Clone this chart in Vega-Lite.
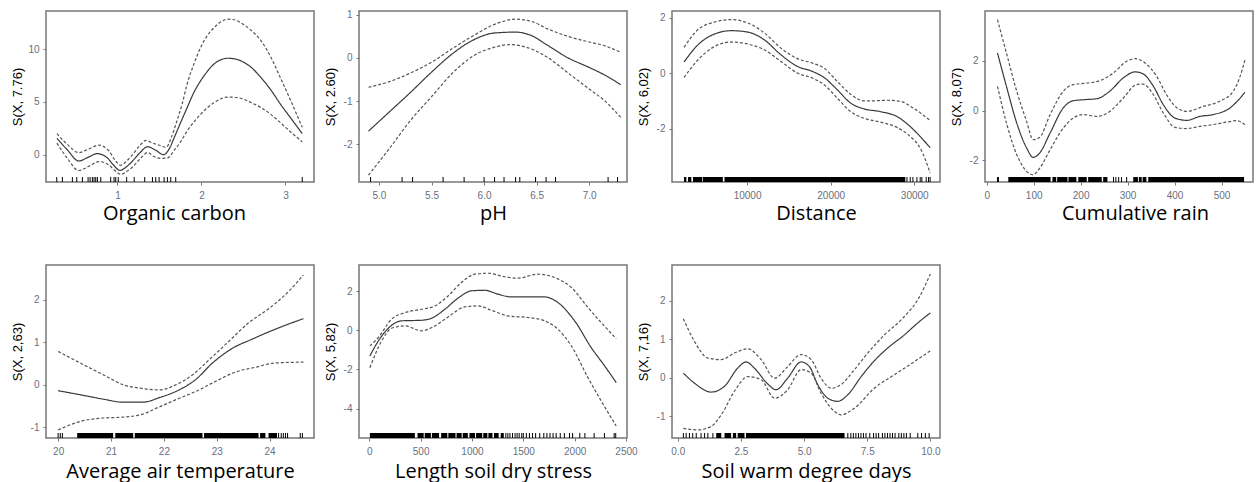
{
"$schema": "https://vega.github.io/schema/vega-lite/v6.json",
"padding": {"left": 10, "top": 9, "right": 0, "bottom": 0},
"autosize": "pad",
"bounds": "flush",
"columns": 4,
"spacing": {"row": 83, "column": 45},
"datasets": {
"curves": [
{"p":"oc","s":"fit","x":0.28,"y":1.55},{"p":"oc","s":"fit","x":0.40,"y":0.5},{"p":"oc","s":"fit","x":0.54,"y":-0.6},{"p":"oc","s":"fit","x":0.65,"y":-0.25},{"p":"oc","s":"fit","x":0.76,"y":0.1},{"p":"oc","s":"fit","x":0.88,"y":-0.3},{"p":"oc","s":"fit","x":0.95,"y":-0.95},{"p":"oc","s":"fit","x":1.03,"y":-1.49},{"p":"oc","s":"fit","x":1.10,"y":-1.2},{"p":"oc","s":"fit","x":1.18,"y":-0.6},{"p":"oc","s":"fit","x":1.27,"y":0.2},{"p":"oc","s":"fit","x":1.36,"y":0.76},{"p":"oc","s":"fit","x":1.45,"y":0.45},{"p":"oc","s":"fit","x":1.55,"y":0.0},{"p":"oc","s":"fit","x":1.62,"y":0.6},{"p":"oc","s":"fit","x":1.67,"y":1.5},{"p":"oc","s":"fit","x":1.75,"y":3.0},{"p":"oc","s":"fit","x":1.83,"y":4.46},{"p":"oc","s":"fit","x":1.91,"y":5.9},{"p":"oc","s":"fit","x":1.99,"y":7.0},{"p":"oc","s":"fit","x":2.07,"y":7.9},{"p":"oc","s":"fit","x":2.15,"y":8.6},{"p":"oc","s":"fit","x":2.23,"y":9.0},{"p":"oc","s":"fit","x":2.31,"y":9.15},{"p":"oc","s":"fit","x":2.39,"y":9.1},{"p":"oc","s":"fit","x":2.47,"y":8.9},{"p":"oc","s":"fit","x":2.59,"y":8.3},{"p":"oc","s":"fit","x":2.71,"y":7.3},{"p":"oc","s":"fit","x":2.83,"y":6.1},{"p":"oc","s":"fit","x":2.94,"y":4.8},{"p":"oc","s":"fit","x":3.07,"y":3.4},{"p":"oc","s":"fit","x":3.20,"y":2.0},
{"p":"oc","s":"hi","x":0.28,"y":2.0},{"p":"oc","s":"hi","x":0.40,"y":1.0},{"p":"oc","s":"hi","x":0.54,"y":0.2},{"p":"oc","s":"hi","x":0.66,"y":0.55},{"p":"oc","s":"hi","x":0.78,"y":0.9},{"p":"oc","s":"hi","x":0.90,"y":0.35},{"p":"oc","s":"hi","x":0.97,"y":-0.5},{"p":"oc","s":"hi","x":1.04,"y":-1.0},{"p":"oc","s":"hi","x":1.11,"y":-0.6},{"p":"oc","s":"hi","x":1.18,"y":0.0},{"p":"oc","s":"hi","x":1.26,"y":0.8},{"p":"oc","s":"hi","x":1.34,"y":1.35},{"p":"oc","s":"hi","x":1.42,"y":1.1},{"p":"oc","s":"hi","x":1.50,"y":0.9},{"p":"oc","s":"hi","x":1.58,"y":0.7},{"p":"oc","s":"hi","x":1.64,"y":1.6},{"p":"oc","s":"hi","x":1.70,"y":3.0},{"p":"oc","s":"hi","x":1.77,"y":4.8},{"p":"oc","s":"hi","x":1.83,"y":6.7},{"p":"oc","s":"hi","x":1.91,"y":8.6},{"p":"oc","s":"hi","x":1.99,"y":10.15},{"p":"oc","s":"hi","x":2.07,"y":11.3},{"p":"oc","s":"hi","x":2.15,"y":12.05},{"p":"oc","s":"hi","x":2.23,"y":12.6},{"p":"oc","s":"hi","x":2.31,"y":12.85},{"p":"oc","s":"hi","x":2.39,"y":12.8},{"p":"oc","s":"hi","x":2.47,"y":12.5},{"p":"oc","s":"hi","x":2.59,"y":11.8},{"p":"oc","s":"hi","x":2.71,"y":10.8},{"p":"oc","s":"hi","x":2.83,"y":9.2},{"p":"oc","s":"hi","x":2.94,"y":7.3},{"p":"oc","s":"hi","x":3.07,"y":5.0},{"p":"oc","s":"hi","x":3.20,"y":2.6},
{"p":"oc","s":"lo","x":0.28,"y":1.1},{"p":"oc","s":"lo","x":0.40,"y":-0.3},{"p":"oc","s":"lo","x":0.54,"y":-1.5},{"p":"oc","s":"lo","x":0.66,"y":-1.1},{"p":"oc","s":"lo","x":0.78,"y":-0.65},{"p":"oc","s":"lo","x":0.90,"y":-1.0},{"p":"oc","s":"lo","x":0.97,"y":-1.5},{"p":"oc","s":"lo","x":1.04,"y":-1.87},{"p":"oc","s":"lo","x":1.11,"y":-1.6},{"p":"oc","s":"lo","x":1.18,"y":-1.17},{"p":"oc","s":"lo","x":1.27,"y":-0.4},{"p":"oc","s":"lo","x":1.36,"y":0.2},{"p":"oc","s":"lo","x":1.44,"y":-0.2},{"p":"oc","s":"lo","x":1.52,"y":-0.35},{"p":"oc","s":"lo","x":1.60,"y":-0.3},{"p":"oc","s":"lo","x":1.67,"y":0.35},{"p":"oc","s":"lo","x":1.75,"y":1.2},{"p":"oc","s":"lo","x":1.83,"y":2.25},{"p":"oc","s":"lo","x":1.91,"y":3.1},{"p":"oc","s":"lo","x":1.99,"y":3.83},{"p":"oc","s":"lo","x":2.07,"y":4.45},{"p":"oc","s":"lo","x":2.15,"y":4.94},{"p":"oc","s":"lo","x":2.23,"y":5.3},{"p":"oc","s":"lo","x":2.31,"y":5.47},{"p":"oc","s":"lo","x":2.39,"y":5.45},{"p":"oc","s":"lo","x":2.47,"y":5.35},{"p":"oc","s":"lo","x":2.59,"y":4.95},{"p":"oc","s":"lo","x":2.71,"y":4.46},{"p":"oc","s":"lo","x":2.83,"y":3.8},{"p":"oc","s":"lo","x":2.94,"y":3.04},{"p":"oc","s":"lo","x":3.07,"y":2.1},{"p":"oc","s":"lo","x":3.20,"y":1.23},

{"p":"ph","s":"fit","x":4.9,"y":-1.7},{"p":"ph","s":"fit","x":5.1,"y":-1.25},{"p":"ph","s":"fit","x":5.3,"y":-0.8},{"p":"ph","s":"fit","x":5.5,"y":-0.33},{"p":"ph","s":"fit","x":5.7,"y":0.1},{"p":"ph","s":"fit","x":5.9,"y":0.42},{"p":"ph","s":"fit","x":6.1,"y":0.58},{"p":"ph","s":"fit","x":6.3,"y":0.6},{"p":"ph","s":"fit","x":6.45,"y":0.52},{"p":"ph","s":"fit","x":6.6,"y":0.3},{"p":"ph","s":"fit","x":6.8,"y":0.0},{"p":"ph","s":"fit","x":7.0,"y":-0.22},{"p":"ph","s":"fit","x":7.15,"y":-0.4},{"p":"ph","s":"fit","x":7.3,"y":-0.62},
{"p":"ph","s":"hi","x":4.9,"y":-0.68},{"p":"ph","s":"hi","x":5.1,"y":-0.55},{"p":"ph","s":"hi","x":5.3,"y":-0.35},{"p":"ph","s":"hi","x":5.5,"y":-0.1},{"p":"ph","s":"hi","x":5.7,"y":0.22},{"p":"ph","s":"hi","x":5.9,"y":0.52},{"p":"ph","s":"hi","x":6.1,"y":0.78},{"p":"ph","s":"hi","x":6.3,"y":0.9},{"p":"ph","s":"hi","x":6.45,"y":0.85},{"p":"ph","s":"hi","x":6.6,"y":0.68},{"p":"ph","s":"hi","x":6.8,"y":0.5},{"p":"ph","s":"hi","x":7.0,"y":0.37},{"p":"ph","s":"hi","x":7.15,"y":0.28},{"p":"ph","s":"hi","x":7.3,"y":0.13},
{"p":"ph","s":"lo","x":4.9,"y":-2.72},{"p":"ph","s":"lo","x":5.1,"y":-2.1},{"p":"ph","s":"lo","x":5.3,"y":-1.45},{"p":"ph","s":"lo","x":5.5,"y":-0.9},{"p":"ph","s":"lo","x":5.7,"y":-0.35},{"p":"ph","s":"lo","x":5.9,"y":0.05},{"p":"ph","s":"lo","x":6.1,"y":0.25},{"p":"ph","s":"lo","x":6.25,"y":0.31},{"p":"ph","s":"lo","x":6.4,"y":0.25},{"p":"ph","s":"lo","x":6.6,"y":0.02},{"p":"ph","s":"lo","x":6.8,"y":-0.35},{"p":"ph","s":"lo","x":7.0,"y":-0.72},{"p":"ph","s":"lo","x":7.15,"y":-1.0},{"p":"ph","s":"lo","x":7.3,"y":-1.38},

{"p":"dist","s":"fit","x":2460,"y":0.4},{"p":"dist","s":"fit","x":4130,"y":1.02},{"p":"dist","s":"fit","x":6110,"y":1.41},{"p":"dist","s":"fit","x":8100,"y":1.53},{"p":"dist","s":"fit","x":10080,"y":1.48},{"p":"dist","s":"fit","x":12060,"y":1.2},{"p":"dist","s":"fit","x":14050,"y":0.66},{"p":"dist","s":"fit","x":16030,"y":0.24},{"p":"dist","s":"fit","x":17820,"y":0.06},{"p":"dist","s":"fit","x":19210,"y":-0.16},{"p":"dist","s":"fit","x":20790,"y":-0.6},{"p":"dist","s":"fit","x":22380,"y":-1.08},{"p":"dist","s":"fit","x":23970,"y":-1.29},{"p":"dist","s":"fit","x":25950,"y":-1.39},{"p":"dist","s":"fit","x":27940,"y":-1.57},{"p":"dist","s":"fit","x":29520,"y":-1.93},{"p":"dist","s":"fit","x":30710,"y":-2.29},{"p":"dist","s":"fit","x":31900,"y":-2.69},
{"p":"dist","s":"hi","x":2460,"y":0.93},{"p":"dist","s":"hi","x":4130,"y":1.57},{"p":"dist","s":"hi","x":6110,"y":1.84},{"p":"dist","s":"hi","x":8100,"y":1.93},{"p":"dist","s":"hi","x":10080,"y":1.81},{"p":"dist","s":"hi","x":12060,"y":1.45},{"p":"dist","s":"hi","x":14050,"y":0.9},{"p":"dist","s":"hi","x":16030,"y":0.52},{"p":"dist","s":"hi","x":17820,"y":0.36},{"p":"dist","s":"hi","x":19210,"y":0.18},{"p":"dist","s":"hi","x":20790,"y":-0.3},{"p":"dist","s":"hi","x":22380,"y":-0.76},{"p":"dist","s":"hi","x":23970,"y":-1.0},{"p":"dist","s":"hi","x":25160,"y":-1.0},{"p":"dist","s":"hi","x":26750,"y":-0.98},{"p":"dist","s":"hi","x":28330,"y":-1.02},{"p":"dist","s":"hi","x":29920,"y":-1.27},{"p":"dist","s":"hi","x":31900,"y":-1.71},
{"p":"dist","s":"lo","x":2460,"y":-0.16},{"p":"dist","s":"lo","x":4130,"y":0.48},{"p":"dist","s":"lo","x":6110,"y":0.96},{"p":"dist","s":"lo","x":8100,"y":1.12},{"p":"dist","s":"lo","x":10080,"y":1.05},{"p":"dist","s":"lo","x":12060,"y":0.84},{"p":"dist","s":"lo","x":14050,"y":0.42},{"p":"dist","s":"lo","x":16030,"y":0.0},{"p":"dist","s":"lo","x":17820,"y":-0.18},{"p":"dist","s":"lo","x":19210,"y":-0.42},{"p":"dist","s":"lo","x":20790,"y":-0.9},{"p":"dist","s":"lo","x":22380,"y":-1.39},{"p":"dist","s":"lo","x":23970,"y":-1.63},{"p":"dist","s":"lo","x":25950,"y":-1.77},{"p":"dist","s":"lo","x":27940,"y":-1.96},{"p":"dist","s":"lo","x":29520,"y":-2.29},{"p":"dist","s":"lo","x":30710,"y":-2.71},{"p":"dist","s":"lo","x":31300,"y":-3.1},{"p":"dist","s":"lo","x":31900,"y":-3.61},

{"p":"rain","s":"fit","x":23,"y":2.32},{"p":"rain","s":"fit","x":43,"y":0.91},{"p":"rain","s":"fit","x":64,"y":-0.5},{"p":"rain","s":"fit","x":85,"y":-1.5},{"p":"rain","s":"fit","x":99,"y":-1.88},{"p":"rain","s":"fit","x":113,"y":-1.7},{"p":"rain","s":"fit","x":135,"y":-0.9},{"p":"rain","s":"fit","x":163,"y":0.11},{"p":"rain","s":"fit","x":184,"y":0.4},{"p":"rain","s":"fit","x":206,"y":0.44},{"p":"rain","s":"fit","x":234,"y":0.48},{"p":"rain","s":"fit","x":262,"y":0.78},{"p":"rain","s":"fit","x":291,"y":1.32},{"p":"rain","s":"fit","x":316,"y":1.56},{"p":"rain","s":"fit","x":333,"y":1.48},{"p":"rain","s":"fit","x":355,"y":0.98},{"p":"rain","s":"fit","x":376,"y":0.24},{"p":"rain","s":"fit","x":401,"y":-0.3},{"p":"rain","s":"fit","x":426,"y":-0.39},{"p":"rain","s":"fit","x":454,"y":-0.23},{"p":"rain","s":"fit","x":482,"y":-0.16},{"p":"rain","s":"fit","x":518,"y":0.11},{"p":"rain","s":"fit","x":550,"y":0.74},
{"p":"rain","s":"hi","x":23,"y":3.66},{"p":"rain","s":"hi","x":43,"y":2.25},{"p":"rain","s":"hi","x":64,"y":0.78},{"p":"rain","s":"hi","x":85,"y":-0.43},{"p":"rain","s":"hi","x":99,"y":-1.17},{"p":"rain","s":"hi","x":113,"y":-1.07},{"p":"rain","s":"hi","x":135,"y":-0.16},{"p":"rain","s":"hi","x":163,"y":0.78},{"p":"rain","s":"hi","x":184,"y":1.05},{"p":"rain","s":"hi","x":213,"y":1.11},{"p":"rain","s":"hi","x":241,"y":1.21},{"p":"rain","s":"hi","x":270,"y":1.52},{"p":"rain","s":"hi","x":298,"y":1.99},{"p":"rain","s":"hi","x":316,"y":2.09},{"p":"rain","s":"hi","x":337,"y":1.92},{"p":"rain","s":"hi","x":362,"y":1.38},{"p":"rain","s":"hi","x":383,"y":0.64},{"p":"rain","s":"hi","x":404,"y":0.13},{"p":"rain","s":"hi","x":426,"y":-0.03},{"p":"rain","s":"hi","x":461,"y":0.17},{"p":"rain","s":"hi","x":496,"y":0.38},{"p":"rain","s":"hi","x":525,"y":0.78},{"p":"rain","s":"hi","x":538,"y":1.3},{"p":"rain","s":"hi","x":550,"y":2.05},
{"p":"rain","s":"lo","x":23,"y":0.98},{"p":"rain","s":"lo","x":43,"y":-0.56},{"p":"rain","s":"lo","x":64,"y":-1.77},{"p":"rain","s":"lo","x":85,"y":-2.44},{"p":"rain","s":"lo","x":99,"y":-2.58},{"p":"rain","s":"lo","x":113,"y":-2.31},{"p":"rain","s":"lo","x":135,"y":-1.57},{"p":"rain","s":"lo","x":163,"y":-0.7},{"p":"rain","s":"lo","x":184,"y":-0.3},{"p":"rain","s":"lo","x":206,"y":-0.16},{"p":"rain","s":"lo","x":234,"y":-0.23},{"p":"rain","s":"lo","x":262,"y":-0.03},{"p":"rain","s":"lo","x":291,"y":0.51},{"p":"rain","s":"lo","x":319,"y":1.05},{"p":"rain","s":"lo","x":333,"y":1.07},{"p":"rain","s":"lo","x":355,"y":0.64},{"p":"rain","s":"lo","x":376,"y":-0.09},{"p":"rain","s":"lo","x":401,"y":-0.67},{"p":"rain","s":"lo","x":426,"y":-0.72},{"p":"rain","s":"lo","x":454,"y":-0.63},{"p":"rain","s":"lo","x":482,"y":-0.56},{"p":"rain","s":"lo","x":511,"y":-0.46},{"p":"rain","s":"lo","x":532,"y":-0.4},{"p":"rain","s":"lo","x":550,"y":-0.56},

{"p":"temp","s":"fit","x":20.0,"y":-0.14},{"p":"temp","s":"fit","x":20.48,"y":-0.25},{"p":"temp","s":"fit","x":20.86,"y":-0.34},{"p":"temp","s":"fit","x":21.23,"y":-0.41},{"p":"temp","s":"fit","x":21.6,"y":-0.41},{"p":"temp","s":"fit","x":21.92,"y":-0.3},{"p":"temp","s":"fit","x":22.29,"y":-0.12},{"p":"temp","s":"fit","x":22.6,"y":0.12},{"p":"temp","s":"fit","x":22.92,"y":0.51},{"p":"temp","s":"fit","x":23.29,"y":0.85},{"p":"temp","s":"fit","x":23.67,"y":1.07},{"p":"temp","s":"fit","x":24.1,"y":1.3},{"p":"temp","s":"fit","x":24.64,"y":1.55},
{"p":"temp","s":"hi","x":20.0,"y":0.78},{"p":"temp","s":"hi","x":20.48,"y":0.47},{"p":"temp","s":"hi","x":20.86,"y":0.23},{"p":"temp","s":"hi","x":21.23,"y":0.0},{"p":"temp","s":"hi","x":21.54,"y":-0.08},{"p":"temp","s":"hi","x":21.92,"y":-0.12},{"p":"temp","s":"hi","x":22.23,"y":0.0},{"p":"temp","s":"hi","x":22.54,"y":0.23},{"p":"temp","s":"hi","x":22.86,"y":0.59},{"p":"temp","s":"hi","x":23.23,"y":1.02},{"p":"temp","s":"hi","x":23.6,"y":1.45},{"p":"temp","s":"hi","x":24.0,"y":1.8},{"p":"temp","s":"hi","x":24.36,"y":2.19},{"p":"temp","s":"hi","x":24.64,"y":2.58},
{"p":"temp","s":"lo","x":20.0,"y":-1.06},{"p":"temp","s":"lo","x":20.42,"y":-0.86},{"p":"temp","s":"lo","x":20.86,"y":-0.78},{"p":"temp","s":"lo","x":21.23,"y":-0.76},{"p":"temp","s":"lo","x":21.6,"y":-0.69},{"p":"temp","s":"lo","x":21.86,"y":-0.55},{"p":"temp","s":"lo","x":22.23,"y":-0.35},{"p":"temp","s":"lo","x":22.6,"y":-0.16},{"p":"temp","s":"lo","x":22.98,"y":0.08},{"p":"temp","s":"lo","x":23.36,"y":0.3},{"p":"temp","s":"lo","x":23.73,"y":0.41},{"p":"temp","s":"lo","x":24.1,"y":0.51},{"p":"temp","s":"lo","x":24.64,"y":0.53},

{"p":"dry","s":"fit","x":6,"y":-1.31},{"p":"dry","s":"fit","x":88,"y":-0.55},{"p":"dry","s":"fit","x":185,"y":0.1},{"p":"dry","s":"fit","x":314,"y":0.48},{"p":"dry","s":"fit","x":509,"y":0.51},{"p":"dry","s":"fit","x":606,"y":0.61},{"p":"dry","s":"fit","x":736,"y":1.07},{"p":"dry","s":"fit","x":865,"y":1.64},{"p":"dry","s":"fit","x":995,"y":2.01},{"p":"dry","s":"fit","x":1125,"y":2.04},{"p":"dry","s":"fit","x":1254,"y":1.84},{"p":"dry","s":"fit","x":1384,"y":1.7},{"p":"dry","s":"fit","x":1546,"y":1.7},{"p":"dry","s":"fit","x":1708,"y":1.7},{"p":"dry","s":"fit","x":1838,"y":1.41},{"p":"dry","s":"fit","x":2000,"y":0.48},{"p":"dry","s":"fit","x":2162,"y":-0.89},{"p":"dry","s":"fit","x":2292,"y":-1.82},{"p":"dry","s":"fit","x":2405,"y":-2.67},
{"p":"dry","s":"hi","x":6,"y":-0.8},{"p":"dry","s":"hi","x":88,"y":-0.37},{"p":"dry","s":"hi","x":217,"y":0.56},{"p":"dry","s":"hi","x":347,"y":0.9},{"p":"dry","s":"hi","x":509,"y":1.07},{"p":"dry","s":"hi","x":639,"y":1.24},{"p":"dry","s":"hi","x":768,"y":1.75},{"p":"dry","s":"hi","x":898,"y":2.44},{"p":"dry","s":"hi","x":1028,"y":2.86},{"p":"dry","s":"hi","x":1157,"y":2.91},{"p":"dry","s":"hi","x":1319,"y":2.73},{"p":"dry","s":"hi","x":1449,"y":2.66},{"p":"dry","s":"hi","x":1643,"y":2.86},{"p":"dry","s":"hi","x":1805,"y":2.69},{"p":"dry","s":"hi","x":1968,"y":2.18},{"p":"dry","s":"hi","x":2130,"y":1.16},{"p":"dry","s":"hi","x":2259,"y":0.39},{"p":"dry","s":"hi","x":2405,"y":-0.43},
{"p":"dry","s":"lo","x":6,"y":-1.91},{"p":"dry","s":"lo","x":120,"y":-0.55},{"p":"dry","s":"lo","x":217,"y":0.1},{"p":"dry","s":"lo","x":347,"y":0.22},{"p":"dry","s":"lo","x":509,"y":-0.03},{"p":"dry","s":"lo","x":639,"y":0.22},{"p":"dry","s":"lo","x":768,"y":0.68},{"p":"dry","s":"lo","x":930,"y":1.19},{"p":"dry","s":"lo","x":1060,"y":1.24},{"p":"dry","s":"lo","x":1190,"y":1.02},{"p":"dry","s":"lo","x":1352,"y":0.73},{"p":"dry","s":"lo","x":1546,"y":0.65},{"p":"dry","s":"lo","x":1708,"y":0.48},{"p":"dry","s":"lo","x":1838,"y":0.05},{"p":"dry","s":"lo","x":1968,"y":-0.8},{"p":"dry","s":"lo","x":2130,"y":-2.42},{"p":"dry","s":"lo","x":2259,"y":-3.61},{"p":"dry","s":"lo","x":2405,"y":-4.89},

{"p":"swdd","s":"fit","x":0.22,"y":0.12},{"p":"swdd","s":"fit","x":0.66,"y":-0.14},{"p":"swdd","s":"fit","x":1.32,"y":-0.37},{"p":"swdd","s":"fit","x":1.85,"y":-0.22},{"p":"swdd","s":"fit","x":2.37,"y":0.25},{"p":"swdd","s":"fit","x":2.7,"y":0.41},{"p":"swdd","s":"fit","x":3.03,"y":0.25},{"p":"swdd","s":"fit","x":3.56,"y":-0.16},{"p":"swdd","s":"fit","x":3.89,"y":-0.31},{"p":"swdd","s":"fit","x":4.35,"y":-0.01},{"p":"swdd","s":"fit","x":4.88,"y":0.41},{"p":"swdd","s":"fit","x":5.21,"y":0.29},{"p":"swdd","s":"fit","x":5.54,"y":-0.18},{"p":"swdd","s":"fit","x":5.94,"y":-0.53},{"p":"swdd","s":"fit","x":6.33,"y":-0.61},{"p":"swdd","s":"fit","x":6.73,"y":-0.44},{"p":"swdd","s":"fit","x":7.26,"y":0.03},{"p":"swdd","s":"fit","x":7.78,"y":0.44},{"p":"swdd","s":"fit","x":8.31,"y":0.77},{"p":"swdd","s":"fit","x":8.97,"y":1.11},{"p":"swdd","s":"fit","x":9.5,"y":1.42},{"p":"swdd","s":"fit","x":10.0,"y":1.68},
{"p":"swdd","s":"hi","x":0.22,"y":1.53},{"p":"swdd","s":"hi","x":0.66,"y":0.94},{"p":"swdd","s":"hi","x":1.19,"y":0.51},{"p":"swdd","s":"hi","x":1.72,"y":0.47},{"p":"swdd","s":"hi","x":2.24,"y":0.64},{"p":"swdd","s":"hi","x":2.77,"y":0.75},{"p":"swdd","s":"hi","x":3.3,"y":0.47},{"p":"swdd","s":"hi","x":3.83,"y":-0.01},{"p":"swdd","s":"hi","x":4.35,"y":0.29},{"p":"swdd","s":"hi","x":4.88,"y":0.6},{"p":"swdd","s":"hi","x":5.28,"y":0.47},{"p":"swdd","s":"hi","x":5.67,"y":-0.01},{"p":"swdd","s":"hi","x":6.07,"y":-0.27},{"p":"swdd","s":"hi","x":6.46,"y":-0.18},{"p":"swdd","s":"hi","x":6.99,"y":0.21},{"p":"swdd","s":"hi","x":7.52,"y":0.64},{"p":"swdd","s":"hi","x":8.18,"y":1.11},{"p":"swdd","s":"hi","x":8.84,"y":1.5},{"p":"swdd","s":"hi","x":9.5,"y":2.02},{"p":"swdd","s":"hi","x":10.0,"y":2.69},
{"p":"swdd","s":"lo","x":0.22,"y":-1.31},{"p":"swdd","s":"lo","x":0.79,"y":-1.35},{"p":"swdd","s":"lo","x":1.32,"y":-1.26},{"p":"swdd","s":"lo","x":1.72,"y":-0.96},{"p":"swdd","s":"lo","x":2.24,"y":-0.35},{"p":"swdd","s":"lo","x":2.77,"y":0.03},{"p":"swdd","s":"lo","x":3.3,"y":-0.05},{"p":"swdd","s":"lo","x":3.83,"y":-0.53},{"p":"swdd","s":"lo","x":4.35,"y":-0.31},{"p":"swdd","s":"lo","x":4.88,"y":0.21},{"p":"swdd","s":"lo","x":5.28,"y":0.12},{"p":"swdd","s":"lo","x":5.67,"y":-0.4},{"p":"swdd","s":"lo","x":6.2,"y":-0.87},{"p":"swdd","s":"lo","x":6.46,"y":-0.96},{"p":"swdd","s":"lo","x":6.99,"y":-0.79},{"p":"swdd","s":"lo","x":7.78,"y":-0.27},{"p":"swdd","s":"lo","x":8.58,"y":0.08},{"p":"swdd","s":"lo","x":9.37,"y":0.42},{"p":"swdd","s":"lo","x":10.0,"y":0.7}
],
"rug": [
{"p":"oc","x":0.278},{"p":"oc","x":0.345},{"p":"oc","x":0.464},{"p":"oc","x":0.516},{"p":"oc","x":0.583},{"p":"oc","x":0.651},{"p":"oc","x":0.675},{"p":"oc","x":0.702},{"p":"oc","x":0.722},{"p":"oc","x":0.742},{"p":"oc","x":0.762},{"p":"oc","x":0.802},{"p":"oc","x":0.92},{"p":"oc","x":0.96},{"p":"oc","x":0.98},{"p":"oc","x":1.01},{"p":"oc","x":1.11},{"p":"oc","x":1.2},{"p":"oc","x":1.325},{"p":"oc","x":1.417},{"p":"oc","x":1.456},{"p":"oc","x":1.496},{"p":"oc","x":1.556},{"p":"oc","x":1.595},{"p":"oc","x":1.635},{"p":"oc","x":1.694},{"p":"oc","x":3.2},
{"p":"ph","x":4.92},{"p":"ph","x":5.22},{"p":"ph","x":5.32},{"p":"ph","x":5.61},{"p":"ph","x":5.81},{"p":"ph","x":6.0},{"p":"ph","x":6.1},{"p":"ph","x":6.19},{"p":"ph","x":6.3},{"p":"ph","x":6.34},{"p":"ph","x":6.49},{"p":"ph","x":6.59},{"p":"ph","x":6.68},{"p":"ph","x":7.18},{"p":"ph","x":7.27},
{"p":"dist","x":2460,"x2":2740},{"p":"dist","x":2940,"x2":3330},{"p":"dist","x":3530,"x2":4640},{"p":"dist","x":4720,"x2":7100},{"p":"dist","x":7300,"x2":28930},{"p":"dist","x":29130},{"p":"dist","x":29520},{"p":"dist","x":29840},{"p":"dist","x":30320},{"p":"dist","x":30710},{"p":"dist","x":30910},{"p":"dist","x":31430},{"p":"dist","x":31710},{"p":"dist","x":31900},
{"p":"rain","x":23},{"p":"rain","x":25},{"p":"rain","x":46,"x2":136},{"p":"rain","x":140,"x2":148},{"p":"rain","x":150,"x2":172},{"p":"rain","x":174,"x2":191},{"p":"rain","x":195,"x2":213},{"p":"rain","x":216,"x2":245},{"p":"rain","x":248,"x2":257},{"p":"rain","x":270},{"p":"rain","x":275},{"p":"rain","x":281},{"p":"rain","x":287},{"p":"rain","x":298},{"p":"rain","x":312,"x2":322},{"p":"rain","x":324,"x2":330},{"p":"rain","x":332,"x2":340},{"p":"rain","x":344,"x2":548},
{"p":"temp","x":20.0},{"p":"temp","x":20.04},{"p":"temp","x":20.08},{"p":"temp","x":20.36,"x2":21.04},{"p":"temp","x":21.08,"x2":21.42},{"p":"temp","x":21.45,"x2":22.73},{"p":"temp","x":22.76,"x2":23.79},{"p":"temp","x":23.82,"x2":23.92},{"p":"temp","x":23.98,"x2":24.14},{"p":"temp","x":24.17},{"p":"temp","x":24.22},{"p":"temp","x":24.26},{"p":"temp","x":24.3},{"p":"temp","x":24.34},{"p":"temp","x":24.58},{"p":"temp","x":24.62},
{"p":"dry","x":6,"x2":444},{"p":"dry","x":470,"x2":530},{"p":"dry","x":540,"x2":600},{"p":"dry","x":610,"x2":680},{"p":"dry","x":700,"x2":760},{"p":"dry","x":770,"x2":840},{"p":"dry","x":850,"x2":900},{"p":"dry","x":910,"x2":960},{"p":"dry","x":975,"x2":1030},{"p":"dry","x":1040,"x2":1100},{"p":"dry","x":1110,"x2":1150},{"p":"dry","x":1160,"x2":1200},{"p":"dry","x":1215,"x2":1260},{"p":"dry","x":1280,"x2":1310},{"p":"dry","x":1330},{"p":"dry","x":1350},{"p":"dry","x":1370},{"p":"dry","x":1395},{"p":"dry","x":1420},{"p":"dry","x":1440},{"p":"dry","x":1460},{"p":"dry","x":1485},{"p":"dry","x":1500},{"p":"dry","x":1530},{"p":"dry","x":1560},{"p":"dry","x":1590},{"p":"dry","x":1620},{"p":"dry","x":1660},{"p":"dry","x":1700},{"p":"dry","x":1730},{"p":"dry","x":1760},{"p":"dry","x":1790},{"p":"dry","x":1820},{"p":"dry","x":1860},{"p":"dry","x":1900},{"p":"dry","x":1950},{"p":"dry","x":1980},{"p":"dry","x":2050},{"p":"dry","x":2100},{"p":"dry","x":2190},{"p":"dry","x":2290},{"p":"dry","x":2385},{"p":"dry","x":2400},
{"p":"swdd","x":0.22},{"p":"swdd","x":0.33},{"p":"swdd","x":0.46},{"p":"swdd","x":0.59},{"p":"swdd","x":0.73},{"p":"swdd","x":0.92},{"p":"swdd","x":1.06},{"p":"swdd","x":1.19},{"p":"swdd","x":1.39},{"p":"swdd","x":1.52,"x2":1.72},{"p":"swdd","x":1.85,"x2":2.11},{"p":"swdd","x":2.18,"x2":2.31},{"p":"swdd","x":2.37,"x2":2.64},{"p":"swdd","x":2.7,"x2":6.6},{"p":"swdd","x":6.73},{"p":"swdd","x":6.85},{"p":"swdd","x":6.95},{"p":"swdd","x":7.05},{"p":"swdd","x":7.15},{"p":"swdd","x":7.25},{"p":"swdd","x":7.35},{"p":"swdd","x":7.45},{"p":"swdd","x":7.6},{"p":"swdd","x":7.75},{"p":"swdd","x":7.85},{"p":"swdd","x":7.95},{"p":"swdd","x":8.1},{"p":"swdd","x":8.2},{"p":"swdd","x":8.3},{"p":"swdd","x":8.4},{"p":"swdd","x":8.5},{"p":"swdd","x":8.6},{"p":"swdd","x":8.75},{"p":"swdd","x":8.85},{"p":"swdd","x":8.95},{"p":"swdd","x":9.05},{"p":"swdd","x":9.2},{"p":"swdd","x":9.5},{"p":"swdd","x":9.65},{"p":"swdd","x":9.8},{"p":"swdd","x":9.95}
]
},
"concat": [
{"width": 268, "height": 171, "layer": [
 {"data": {"name": "curves"}, "transform": [{"filter": "datum.p=='oc'"}], "mark": {"type": "line", "strokeWidth": 1.2, "clip": true, "interpolate": "monotone"},
  "encoding": {
   "x": {"field": "x", "type": "quantitative", "title": "Organic carbon", "scale": {"domain": [0.15, 3.34], "nice": false, "zero": false}, "axis": {"values": [1, 2, 3], "format": "d", "titleX": 128}},
   "y": {"field": "y", "type": "quantitative", "title": "S(X, 7.76)", "scale": {"domain": [-2.59, 13.63], "nice": false, "zero": false}, "axis": {"values": [0, 5, 10], "labelExpr": "replace(datum.label, '\u2212', '-')"}},
   "strokeDash": {"field": "s", "type": "nominal", "scale": {"domain": ["fit", "lo", "hi"], "range": [[1, 0], [3, 2], [3, 2]]}, "legend": null},
   "color": {"field": "s", "type": "nominal", "scale": {"domain": ["fit", "lo", "hi"], "range": ["#3a3a3a", "#555555", "#555555"]}, "legend": null}}},
 {"data": {"name": "rug"}, "transform": [{"filter": "datum.p=='oc' && !isValid(datum.x2)"}], "mark": {"type": "rule", "color": "#000000", "strokeWidth": 1},
  "encoding": {"x": {"field": "x", "type": "quantitative", "title": "Organic carbon"}, "y": {"datum": -2.59, "title": "S(X, 7.76)"}, "y2": {"datum": -2.12}}}
]},
{"width": 268, "height": 171, "layer": [
 {"data": {"name": "curves"}, "transform": [{"filter": "datum.p=='ph'"}], "mark": {"type": "line", "strokeWidth": 1.2, "clip": true, "interpolate": "monotone"},
  "encoding": {
   "x": {"field": "x", "type": "quantitative", "title": "pH", "scale": {"domain": [4.81, 7.36], "nice": false, "zero": false}, "axis": {"values": [5.0, 5.5, 6.0, 6.5, 7.0], "format": ".1f"}},
   "y": {"field": "y", "type": "quantitative", "title": "S(X, 2.60)", "scale": {"domain": [-2.88, 1.09], "nice": false, "zero": false}, "axis": {"values": [-2, -1, 0, 1], "labelExpr": "replace(datum.label, '\u2212', '-')"}},
   "strokeDash": {"field": "s", "type": "nominal", "scale": {"domain": ["fit", "lo", "hi"], "range": [[1, 0], [3, 2], [3, 2]]}, "legend": null},
   "color": {"field": "s", "type": "nominal", "scale": {"domain": ["fit", "lo", "hi"], "range": ["#3a3a3a", "#555555", "#555555"]}, "legend": null}}},
 {"data": {"name": "rug"}, "transform": [{"filter": "datum.p=='ph' && !isValid(datum.x2)"}], "mark": {"type": "rule", "color": "#000000", "strokeWidth": 1},
  "encoding": {"x": {"field": "x", "type": "quantitative", "title": "pH"}, "y": {"datum": -2.88, "title": "S(X, 2.60)"}, "y2": {"datum": -2.764}}}
]},
{"width": 268, "height": 171, "layer": [
 {"data": {"name": "curves"}, "transform": [{"filter": "datum.p=='dist'"}], "mark": {"type": "line", "strokeWidth": 1.2, "clip": true, "interpolate": "monotone"},
  "encoding": {
   "x": {"field": "x", "type": "quantitative", "title": "Distance", "scale": {"domain": [1020, 33080], "nice": false, "zero": false}, "axis": {"values": [10000, 20000, 30000], "format": "d", "titleX": 144}},
   "y": {"field": "y", "type": "quantitative", "title": "S(X, 6,02)", "scale": {"domain": [-3.93, 2.24], "nice": false, "zero": false}, "axis": {"values": [-2, 0, 2], "labelExpr": "replace(datum.label, '\u2212', '-')"}},
   "strokeDash": {"field": "s", "type": "nominal", "scale": {"domain": ["fit", "lo", "hi"], "range": [[1, 0], [3, 2], [3, 2]]}, "legend": null},
   "color": {"field": "s", "type": "nominal", "scale": {"domain": ["fit", "lo", "hi"], "range": ["#3a3a3a", "#555555", "#555555"]}, "legend": null}}},
 {"data": {"name": "rug"}, "transform": [{"filter": "datum.p=='dist' && !isValid(datum.x2)"}], "mark": {"type": "rule", "color": "#000000", "strokeWidth": 1},
  "encoding": {"x": {"field": "x", "type": "quantitative", "title": "Distance"}, "y": {"datum": -3.93, "title": "S(X, 6,02)"}, "y2": {"datum": -3.75}}},
 {"data": {"name": "rug"}, "transform": [{"filter": "datum.p=='dist' && isValid(datum.x2)"}], "mark": {"type": "rect", "color": "#000000"},
  "encoding": {"x": {"field": "x", "type": "quantitative", "title": "Distance"}, "x2": {"field": "x2"}, "y": {"datum": -3.93, "title": "S(X, 6,02)"}, "y2": {"datum": -3.75}}}
]},
{"width": 268, "height": 171, "layer": [
 {"data": {"name": "curves"}, "transform": [{"filter": "datum.p=='rain'"}], "mark": {"type": "line", "strokeWidth": 1.2, "clip": true, "interpolate": "monotone"},
  "encoding": {
   "x": {"field": "x", "type": "quantitative", "title": "Cumulative rain", "scale": {"domain": [-3.6, 567], "nice": false, "zero": false}, "axis": {"values": [0, 100, 200, 300, 400, 500], "titleX": 150}},
   "y": {"field": "y", "type": "quantitative", "title": "S(X, 8,07)", "scale": {"domain": [-2.87, 4.01], "nice": false, "zero": false}, "axis": {"values": [-2, 0, 2], "labelExpr": "replace(datum.label, '\u2212', '-')"}},
   "strokeDash": {"field": "s", "type": "nominal", "scale": {"domain": ["fit", "lo", "hi"], "range": [[1, 0], [3, 2], [3, 2]]}, "legend": null},
   "color": {"field": "s", "type": "nominal", "scale": {"domain": ["fit", "lo", "hi"], "range": ["#3a3a3a", "#555555", "#555555"]}, "legend": null}}},
 {"data": {"name": "rug"}, "transform": [{"filter": "datum.p=='rain' && !isValid(datum.x2)"}], "mark": {"type": "rule", "color": "#000000", "strokeWidth": 1},
  "encoding": {"x": {"field": "x", "type": "quantitative", "title": "Cumulative rain"}, "y": {"datum": -2.87, "title": "S(X, 8,07)"}, "y2": {"datum": -2.67}}},
 {"data": {"name": "rug"}, "transform": [{"filter": "datum.p=='rain' && isValid(datum.x2)"}], "mark": {"type": "rect", "color": "#000000"},
  "encoding": {"x": {"field": "x", "type": "quantitative", "title": "Cumulative rain"}, "x2": {"field": "x2"}, "y": {"datum": -2.87, "title": "S(X, 8,07)"}, "y2": {"datum": -2.67}}}
]},
{"width": 268, "height": 173, "layer": [
 {"data": {"name": "curves"}, "transform": [{"filter": "datum.p=='temp'"}], "mark": {"type": "line", "strokeWidth": 1.2, "clip": true, "interpolate": "monotone"},
  "encoding": {
   "x": {"field": "x", "type": "quantitative", "title": "Average air temperature", "scale": {"domain": [19.77, 24.84], "nice": false, "zero": false}, "axis": {"values": [20, 21, 22, 23, 24], "titlePadding": 5}},
   "y": {"field": "y", "type": "quantitative", "title": "S(X, 2,63)", "scale": {"domain": [-1.25, 2.81], "nice": false, "zero": false}, "axis": {"values": [-1, 0, 1, 2], "labelExpr": "replace(datum.label, '\u2212', '-')"}},
   "strokeDash": {"field": "s", "type": "nominal", "scale": {"domain": ["fit", "lo", "hi"], "range": [[1, 0], [3, 2], [3, 2]]}, "legend": null},
   "color": {"field": "s", "type": "nominal", "scale": {"domain": ["fit", "lo", "hi"], "range": ["#3a3a3a", "#555555", "#555555"]}, "legend": null}}},
 {"data": {"name": "rug"}, "transform": [{"filter": "datum.p=='temp' && !isValid(datum.x2)"}], "mark": {"type": "rule", "color": "#000000", "strokeWidth": 1},
  "encoding": {"x": {"field": "x", "type": "quantitative", "title": "Average air temperature"}, "y": {"datum": -1.25, "title": "S(X, 2,63)"}, "y2": {"datum": -1.133}}},
 {"data": {"name": "rug"}, "transform": [{"filter": "datum.p=='temp' && isValid(datum.x2)"}], "mark": {"type": "rect", "color": "#000000"},
  "encoding": {"x": {"field": "x", "type": "quantitative", "title": "Average air temperature"}, "x2": {"field": "x2"}, "y": {"datum": -1.25, "title": "S(X, 2,63)"}, "y2": {"datum": -1.133}}}
]},
{"width": 268, "height": 173, "layer": [
 {"data": {"name": "curves"}, "transform": [{"filter": "datum.p=='dry'"}], "mark": {"type": "line", "strokeWidth": 1.2, "clip": true, "interpolate": "monotone"},
  "encoding": {
   "x": {"field": "x", "type": "quantitative", "title": "Length soil dry stress", "scale": {"domain": [-100, 2510], "nice": false, "zero": false}, "axis": {"values": [0, 500, 1000, 1500, 2000, 2500], "format": "d", "titlePadding": 5}},
   "y": {"field": "y", "type": "quantitative", "title": "S(X, 5,82)", "scale": {"domain": [-5.5, 3.33], "nice": false, "zero": false}, "axis": {"values": [-4, -2, 0, 2], "labelExpr": "replace(datum.label, '\u2212', '-')"}},
   "strokeDash": {"field": "s", "type": "nominal", "scale": {"domain": ["fit", "lo", "hi"], "range": [[1, 0], [3, 2], [3, 2]]}, "legend": null},
   "color": {"field": "s", "type": "nominal", "scale": {"domain": ["fit", "lo", "hi"], "range": ["#3a3a3a", "#555555", "#555555"]}, "legend": null}}},
 {"data": {"name": "rug"}, "transform": [{"filter": "datum.p=='dry' && !isValid(datum.x2)"}], "mark": {"type": "rule", "color": "#000000", "strokeWidth": 1},
  "encoding": {"x": {"field": "x", "type": "quantitative", "title": "Length soil dry stress"}, "y": {"datum": -5.5, "title": "S(X, 5,82)"}, "y2": {"datum": -5.245}}},
 {"data": {"name": "rug"}, "transform": [{"filter": "datum.p=='dry' && isValid(datum.x2)"}], "mark": {"type": "rect", "color": "#000000"},
  "encoding": {"x": {"field": "x", "type": "quantitative", "title": "Length soil dry stress"}, "x2": {"field": "x2"}, "y": {"datum": -5.5, "title": "S(X, 5,82)"}, "y2": {"datum": -5.245}}}
]},
{"width": 268, "height": 173, "layer": [
 {"data": {"name": "curves"}, "transform": [{"filter": "datum.p=='swdd'"}], "mark": {"type": "line", "strokeWidth": 1.2, "clip": true, "interpolate": "monotone"},
  "encoding": {
   "x": {"field": "x", "type": "quantitative", "title": "Soil warm degree days", "scale": {"domain": [-0.23, 10.38], "nice": false, "zero": false}, "axis": {"values": [0, 2.5, 5, 7.5, 10], "format": ".1f", "titlePadding": 5}},
   "y": {"field": "y", "type": "quantitative", "title": "S(X, 7,16)", "scale": {"domain": [-1.56, 2.92], "nice": false, "zero": false}, "axis": {"values": [-1, 0, 1, 2], "labelExpr": "replace(datum.label, '\u2212', '-')"}},
   "strokeDash": {"field": "s", "type": "nominal", "scale": {"domain": ["fit", "lo", "hi"], "range": [[1, 0], [3, 2], [3, 2]]}, "legend": null},
   "color": {"field": "s", "type": "nominal", "scale": {"domain": ["fit", "lo", "hi"], "range": ["#3a3a3a", "#555555", "#555555"]}, "legend": null}}},
 {"data": {"name": "rug"}, "transform": [{"filter": "datum.p=='swdd' && !isValid(datum.x2)"}], "mark": {"type": "rule", "color": "#000000", "strokeWidth": 1},
  "encoding": {"x": {"field": "x", "type": "quantitative", "title": "Soil warm degree days"}, "y": {"datum": -1.56, "title": "S(X, 7,16)"}, "y2": {"datum": -1.43}}},
 {"data": {"name": "rug"}, "transform": [{"filter": "datum.p=='swdd' && isValid(datum.x2)"}], "mark": {"type": "rect", "color": "#000000"},
  "encoding": {"x": {"field": "x", "type": "quantitative", "title": "Soil warm degree days"}, "x2": {"field": "x2"}, "y": {"datum": -1.56, "title": "S(X, 7,16)"}, "y2": {"datum": -1.43}}}
]}
],
"config": {
 "view": {"stroke": "#777777", "strokeWidth": 1.5},
 "axis": {"grid": false, "domain": false, "ticks": true, "tickColor": "#777777", "tickSize": 3, "tickWidth": 1, "labelColor": "#687080", "labelFont": "Liberation Sans", "labelFontSize": 10, "titleFontWeight": "normal", "titleColor": "#000000"},
 "axisX": {"labelPadding": 5, "titleFont": "Open Sans", "titleFontSize": 20, "titlePadding": 3, "labelFlush": false},
 "axisY": {"labelPadding": 4, "titleFont": "Liberation Sans", "titleFontSize": 13, "titlePadding": 4, "minExtent": 18, "maxExtent": 18}
}
}
